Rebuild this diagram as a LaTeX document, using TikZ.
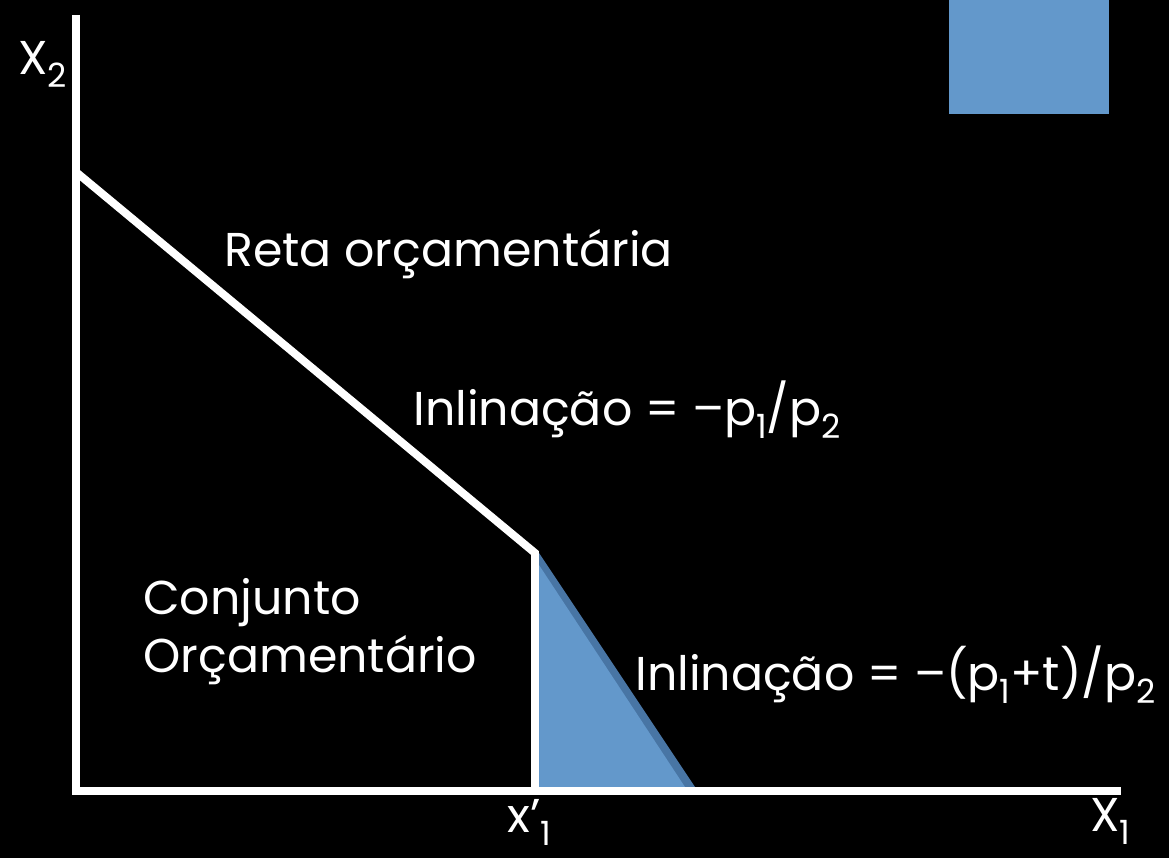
\documentclass[tikz,border=0pt]{standalone}
\usepackage{fontspec}
\setmainfont{Poppins}
\usetikzlibrary{positioning}
\definecolor{boxblue}{RGB}{99,152,203}
\definecolor{edgeblue}{RGB}{72,117,164}
\newcommand{\lowsub}[1]{\raisebox{-0.5ex}{\fontsize{19}{21}\selectfont #1}}

\begin{document}
\begin{tikzpicture}[x=0.02cm, y=-0.02cm, font=\fontsize{27}{33}\selectfont,
    axis/.style={white, line width=4.5pt},
    lbl/.style={text=white, inner sep=0pt, anchor=base west}]
    \fill[black] (0,0) rectangle (1169,858);
    \useasboundingbox (0,0) rectangle (1169,858);

    % pontos do grafico
    \coordinate (ytop) at (76,15);
    \coordinate (origin) at (76,791);
    \coordinate (xend) at (1121,791);
    \coordinate (ycut) at (76,172);
    \coordinate (kink) at (535,553);
    \coordinate (xcut) at (535,791);

    % area cortada pelo imposto
    \fill[edgeblue] (539,553) -- (695,787) -- (539,787) -- cycle;
    \fill[boxblue] (539,565) -- (685,787) -- (539,787) -- cycle;
    \fill[boxblue] (949,0) rectangle (1109,114);

    \draw[axis] (ytop) -- (origin) -- (xend);
    \draw[axis] (ycut) -- (kink) -- (xcut);

    \node[lbl] (x2) at (18,75) {X\lowsub{2}};
    \node[lbl] (x1) at (1090,831) {X\lowsub{1}};
    \node[lbl] (xq) at (507,832) {x’\lowsub{1}};
    \node[lbl] (reta) at (224,266) {Reta orçamentária};
    \node[lbl] (slope) at (413,425) {Inlinação = –p\lowsub{1}/p\lowsub{2}};
    \node[lbl, align=left] (conj) at (143,672) {Conjunto\\Orçamentário};
    \node[lbl] (tslope) at (635,690) {Inlinação = –(p\lowsub{1}+t)/p\lowsub{2}};
\end{tikzpicture}
\end{document}
